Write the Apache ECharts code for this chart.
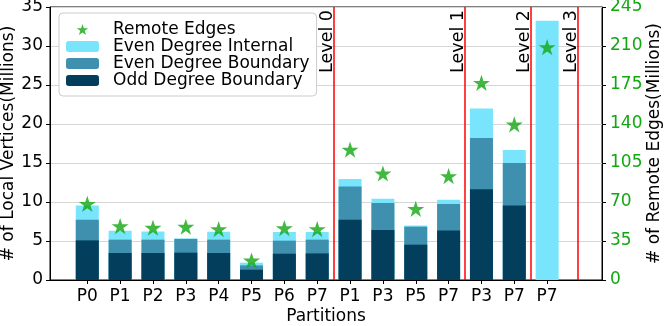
<!DOCTYPE html>
<html>
<head>
<meta charset="utf-8">
<script src="https://cdn.jsdelivr.net/npm/echarts@6/dist/echarts.min.js"></script>
<style>
  html, body { margin: 0; padding: 0; background: #fff; }
  #chart { width: 665px; height: 326px; }
</style>
</head>
<body>
<div id="chart"></div>
<script>
// partitions along the x axis (positions 0..14)
const partitions = ['P0', 'P1', 'P2', 'P3', 'P4', 'P5', 'P6', 'P7', 'P1', 'P3', 'P5', 'P7', 'P3', 'P7', 'P7']
// millions of vertices, per segment
const oddBoundary = [5.08, 3.46, 3.46, 3.5, 3.46, 1.32, 3.37, 3.41, 7.73, 6.41, 4.53, 6.36, 11.62, 9.56, 0]
const evenBoundary = [2.65, 1.71, 1.71, 1.76, 1.71, 0.55, 1.67, 1.76, 4.27, 3.46, 2.3, 3.38, 6.58, 5.44, 0]
const evenInternal = [1.83, 1.15, 1.06, 0.08, 1.02, 0.35, 1.11, 0.98, 0.95, 0.55, 0.17, 0.55, 3.8, 1.67, 33.24]
// millions of remote edges (right axis)
const remoteEdges = [69, 49, 47.6, 48.5, 46.4, 18.2, 47.3, 46.4, 117.8, 96.3, 64.6, 94, 177.7, 140.3, 209.7]
// level separators
const levelNames = ['Level 0', 'Level 1', 'Level 2', 'Level 3']
const levelPos = [7.5, 11.5, 13.5, 14.93]

const FONT = 'DejaVu Sans'
const GREEN = '#12a812'
const STAR = 'path://M100,0 L122.45,69.1 L195.11,69.1 L136.33,111.8 L158.78,180.9 L100,138.2 L41.22,180.9 L63.67,111.8 L4.89,69.1 L77.55,69.1 Z'

// stacked tops, drawn as overlapping bars (tallest first)
const idx = partitions.map((p, i) => i)
const topOdd = idx.map(i => [i, oddBoundary[i]])
const topBoundary = idx.map(i => [i, oddBoundary[i] + evenBoundary[i]])
const topInternal = idx.map(i => [i, oddBoundary[i] + evenBoundary[i] + evenInternal[i]])

const chart = echarts.init(document.getElementById('chart'))

const barBase = {
  type: 'bar',
  barWidth: 23,
  barGap: '-100%',
  z: 2
}

chart.setOption({
  animation: false,
  textStyle: { fontFamily: FONT },
  grid: {
    left: 50,
    right: 63,
    top: 7,
    bottom: 46,
    outerBoundsMode: 'none',
    containLabel: false,
    show: true,
    borderColor: '#000',
    borderWidth: 1,
    backgroundColor: 'transparent'
  },
  legend: {
    orient: 'vertical',
    left: 59,
    top: 13,
    padding: [8, 7, 7, 7],
    backgroundColor: '#fff',
    borderColor: '#ccc',
    borderWidth: 1,
    borderRadius: 4,
    itemWidth: 33,
    itemHeight: 11,
    itemGap: 0,
    data: [
      { name: 'Remote Edges', itemStyle: { color: GREEN } },
      'Even Degree Internal',
      'Even Degree Boundary',
      'Odd Degree Boundary'
    ],
    textStyle: { fontFamily: FONT, fontSize: 17, color: '#000', lineHeight: 16.3, padding: [0, 0, 0, 9] }
  },
  xAxis: {
    type: 'value',
    min: -1.135,
    max: 15.67,
    name: 'Partitions',
    nameLocation: 'middle',
    nameGap: 28,
    nameMoveOverlap: false,
    nameTextStyle: { fontFamily: FONT, fontSize: 17, color: '#000' },
    axisLine: { show: true, onZero: false, lineStyle: { color: '#000' } },
    axisTick: { show: true, length: 4, customValues: idx, lineStyle: { color: '#000' } },
    axisLabel: {
      customValues: idx,
      formatter: v => partitions[Math.round(v)],
      fontFamily: FONT, fontSize: 17, color: '#000', margin: 8
    },
    splitLine: { show: false }
  },
  yAxis: [
    {
      type: 'value',
      min: 0,
      max: 35,
      interval: 5,
      name: '# of Local Vertices(Millions)',
      nameLocation: 'middle',
      nameRotate: 90,
      nameGap: 33,
      nameMoveOverlap: false,
      nameTextStyle: { fontFamily: FONT, fontSize: 17, color: '#000' },
      axisLine: { show: true, onZero: false, lineStyle: { color: '#000' } },
      axisTick: { show: true, length: 4, lineStyle: { color: '#000' } },
      axisLabel: { fontFamily: FONT, fontSize: 17, color: '#000', margin: 7 },
      splitLine: { show: true, lineStyle: { color: '#d6d6d6', width: 1 } }
    },
    {
      type: 'value',
      min: 0,
      max: 245,
      interval: 35,
      position: 'right',
      name: '# of Remote Edges(Millions)',
      nameLocation: 'middle',
      nameRotate: 90,
      nameGap: 44,
      nameMoveOverlap: false,
      nameTextStyle: { fontFamily: FONT, fontSize: 17, color: '#000' },
      axisLine: { show: true, onZero: false, lineStyle: { color: '#000' } },
      axisTick: { show: true, length: 4, lineStyle: { color: '#000' } },
      axisLabel: { fontFamily: FONT, fontSize: 17, color: GREEN, margin: 8 },
      splitLine: { show: false }
    }
  ],
  series: [
    Object.assign({}, barBase, {
      name: 'Even Degree Internal',
      itemStyle: { color: '#78e5fc' },
      data: topInternal,
      markLine: {
        silent: true,
        symbol: 'none',
        lineStyle: { color: '#ff0000', width: 1.5, type: 'solid' },
        label: {
          show: true,
          position: 'insideEndTop',
          formatter: '{b}',
          fontFamily: FONT,
          fontSize: 17.5,
          color: '#000',
          distance: [3, -2.5]
        },
        data: levelPos.map((x, i) => ({ xAxis: x, name: levelNames[i] }))
      }
    }),
    Object.assign({}, barBase, {
      name: 'Even Degree Boundary',
      itemStyle: { color: '#3f8fae' },
      data: topBoundary
    }),
    Object.assign({}, barBase, {
      name: 'Odd Degree Boundary',
      itemStyle: { color: '#033f5c' },
      data: topOdd
    }),
    {
      name: 'Remote Edges',
      type: 'scatter',
      yAxisIndex: 1,
      symbol: STAR,
      symbolSize: [17, 16.2],
      symbolOffset: [0, 0.8],
      itemStyle: { color: GREEN },
      z: 5,
      data: idx.map(i => [i, remoteEdges[i]])
    }
  ]
})
</script>
</body>
</html>
